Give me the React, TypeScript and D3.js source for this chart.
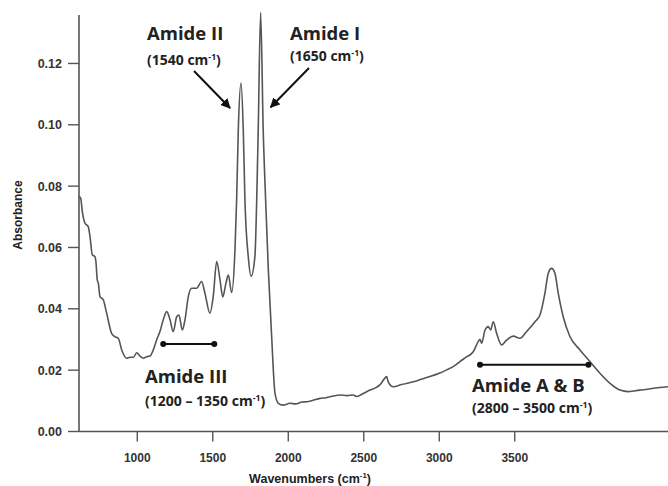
import React from "react";
import * as d3 from "d3";

const wavenumbers = [614, 625, 636, 654, 675, 687, 702, 720, 726, 735, 742, 753, 775, 797, 830, 852, 874, 897, 930, 952, 974, 996, 1018, 1040, 1062, 1084, 1106, 1128, 1150, 1172, 1195, 1217, 1238, 1261, 1276, 1298, 1316, 1338, 1360, 1393, 1426, 1448, 1481, 1503, 1526, 1548, 1566, 1587, 1603, 1625, 1647, 1658, 1669, 1687, 1702, 1713, 1735, 1754, 1779, 1791, 1801, 1817, 1834, 1850, 1868, 1890, 1912, 1934, 1967, 2011, 2050, 2090, 2122, 2160, 2210, 2250, 2300, 2342, 2390, 2430, 2453, 2500, 2541, 2580, 2607, 2640, 2652, 2662, 2695, 2750, 2828, 2880, 2938, 3000, 3049, 3100, 3137, 3180, 3225, 3258, 3270, 3281, 3303, 3325, 3340, 3358, 3380, 3413, 3446, 3490, 3534, 3579, 3634, 3667, 3700, 3722, 3744, 3766, 3788, 3821, 3866, 3932, 3998, 4064, 4131, 4197, 4252, 4300, 4329, 4380, 4417, 4515];
const absorbance = [0.0766, 0.0761, 0.0717, 0.0679, 0.0668, 0.0635, 0.0576, 0.0570, 0.0554, 0.0494, 0.0483, 0.0440, 0.0429, 0.0386, 0.0320, 0.0309, 0.0304, 0.0266, 0.0239, 0.0242, 0.0242, 0.0257, 0.0246, 0.0239, 0.0244, 0.0246, 0.0266, 0.0298, 0.0326, 0.0364, 0.0391, 0.0364, 0.0326, 0.0374, 0.0380, 0.0331, 0.0364, 0.0440, 0.0467, 0.0467, 0.0489, 0.0451, 0.0386, 0.0440, 0.0554, 0.0494, 0.0439, 0.0483, 0.0510, 0.0453, 0.0592, 0.0755, 0.0983, 0.1136, 0.0983, 0.0755, 0.0570, 0.0506, 0.0570, 0.0755, 0.0983, 0.1366, 0.0983, 0.0755, 0.0527, 0.0309, 0.0125, 0.0092, 0.0086, 0.0092, 0.0090, 0.0096, 0.0097, 0.0101, 0.0108, 0.0110, 0.0116, 0.0119, 0.0117, 0.0119, 0.0114, 0.0125, 0.0135, 0.0143, 0.0152, 0.0174, 0.0179, 0.0162, 0.0146, 0.0153, 0.0162, 0.0170, 0.0179, 0.0190, 0.0201, 0.0214, 0.0228, 0.0243, 0.0260, 0.0293, 0.0301, 0.0288, 0.0331, 0.0342, 0.0331, 0.0358, 0.0320, 0.0282, 0.0298, 0.0311, 0.0304, 0.0326, 0.0358, 0.0380, 0.0451, 0.0516, 0.0532, 0.0516, 0.0451, 0.0374, 0.0309, 0.0266, 0.0228, 0.0190, 0.0157, 0.0135, 0.0130, 0.0133, 0.0135, 0.0138, 0.0141, 0.0146];

const xTicks = [1000, 1500, 2000, 2500, 3000, 3500];
const yTicks = [0, 0.02, 0.04, 0.06, 0.08, 0.1, 0.12];

const bandRanges = [
  { name: "Amide III", sub: "(1200 – 1350 cm", from: 1172, to: 1510, level: 0.0285 },
  { name: "Amide A & B", sub: "(2800 – 3500 cm", from: 3270, to: 3988, level: 0.0218 },
];

const peakLabels = [
  { name: "Amide II", sub: "(1540 cm", peak: 1687, level: 0.1055 },
  { name: "Amide I", sub: "(1650 cm", peak: 1817, level: 0.1057 },
];

const W = 668;
const H = 486;

export default function App() {
  const x = d3.scaleLinear().domain([614, 4515]).range([79, 668]);
  const y = d3.scaleLinear().domain([0, 0.1358]).range([431.5, 15]);
  const data = wavenumbers.map((w, i) => [w, absorbance[i]] as [number, number]);
  const line = d3
    .line<[number, number]>()
    .x((d) => x(d[0]))
    .y((d) => y(d[1]))
    .curve(d3.curveMonotoneX);

  const axisColor = "#555";
  const tickFont = "'Liberation Sans', Arial, sans-serif";
  const annFont = "'Open Sans', Lato, sans-serif";
  const subSize = 14;
  const nameSize = 18.5;

  const sup = (base: string, size: number) => (
    <>
      {base}
      <tspan dy={-size * 0.38} fontSize={size * 0.62}>-1</tspan>
      <tspan dy={size * 0.38}>)</tspan>
    </>
  );

  return (
    <svg
      width={W}
      height={H}
      style={{ position: "absolute", left: 0, top: 0, background: "#fff" }}
    >
      <defs>
        <marker id="arrow" viewBox="0 0 10 10" refX="9" refY="5" markerWidth="5" markerHeight="5" orient="auto">
          <path d="M0,0 L10,5 L0,10 z" fill="#111" />
        </marker>
      </defs>
      <rect x={0} y={0} width={W} height={H} fill="#fff" />

      {/* axes */}
      <line x1={x(614)} x2={x(4515)} y1={y(0)} y2={y(0)} stroke={axisColor} strokeWidth={1.6} />
      <line x1={x(614)} x2={x(614)} y1={y(0)} y2={y(0.1358)} stroke={axisColor} strokeWidth={1.6} />
      {yTicks.map((t) => (
        <g key={t}>
          <line x1={x(614) - 11} x2={x(614)} y1={y(t)} y2={y(t)} stroke={axisColor} strokeWidth={1.4} />
          <text x={x(614) - 17} y={y(t)} dy="0.36em" textAnchor="end" fontFamily={tickFont} fontWeight="bold" fontSize={12.5} fill="#333">
            {t.toFixed(2)}
          </text>
        </g>
      ))}
      {xTicks.map((t) => (
        <g key={t}>
          <line x1={x(t)} x2={x(t)} y1={y(0)} y2={y(0) + 10} stroke={axisColor} strokeWidth={1.4} />
          <text x={x(t)} y={y(0) + 30} textAnchor="middle" fontFamily={tickFont} fontWeight="bold" fontSize={12} fill="#333">
            {t}
          </text>
        </g>
      ))}
      <text x={310} y={483} textAnchor="middle" fontFamily={tickFont} fontWeight="bold" fontSize={12.5} fill="#222">
        {sup("Wavenumbers (cm", 12.5)}
      </text>
      <text transform="translate(22,215) rotate(-90)" textAnchor="middle" fontFamily={tickFont} fontWeight="bold" fontSize={12} fill="#222">
        Absorbance
      </text>

      {/* spectrum */}
      <path d={line(data) || ""} fill="none" stroke="#555" strokeWidth={1.6} strokeLinejoin="round" />

      {/* band range bars */}
      {bandRanges.map((b, i) => (
        <g key={b.name}>
          <line x1={x(b.from)} x2={x(b.to)} y1={y(b.level)} y2={y(b.level)} stroke="#111" strokeWidth={2} />
          <circle cx={x(b.from)} cy={y(b.level)} r={3} fill="#111" />
          <circle cx={x(b.to)} cy={y(b.level)} r={3} fill="#111" />
          <text x={i === 0 ? 145 : 472} y={i === 0 ? 383 : 392} fontFamily={annFont} fontWeight="bold" fontSize={nameSize} fill="#222">
            {b.name}
          </text>
          <text x={i === 0 ? 145 : 472} y={i === 0 ? 406 : 413} fontFamily={annFont} fontWeight="bold" fontSize={subSize} fill="#222">
            {sup(b.sub, subSize)}
          </text>
        </g>
      ))}

      {/* peak labels with arrows */}
      {peakLabels.map((p, i) => (
        <g key={p.name}>
          <text x={i === 0 ? 147 : 290} y={40} fontFamily={annFont} fontWeight="bold" fontSize={nameSize} fill="#222">
            {p.name}
          </text>
          <text x={i === 0 ? 147 : 290} y={i === 0 ? 65 : 61} fontFamily={annFont} fontWeight="bold" fontSize={subSize} fill="#222">
            {sup(p.sub, subSize)}
          </text>
          <line
            x1={i === 0 ? 194 : 309}
            y1={i === 0 ? 71 : 68}
            x2={x(p.peak) + (i === 0 ? -11 : 10)}
            y2={y(p.level)}
            stroke="#111"
            strokeWidth={2}
            markerEnd="url(#arrow)"
          />
        </g>
      ))}
    </svg>
  );
}
